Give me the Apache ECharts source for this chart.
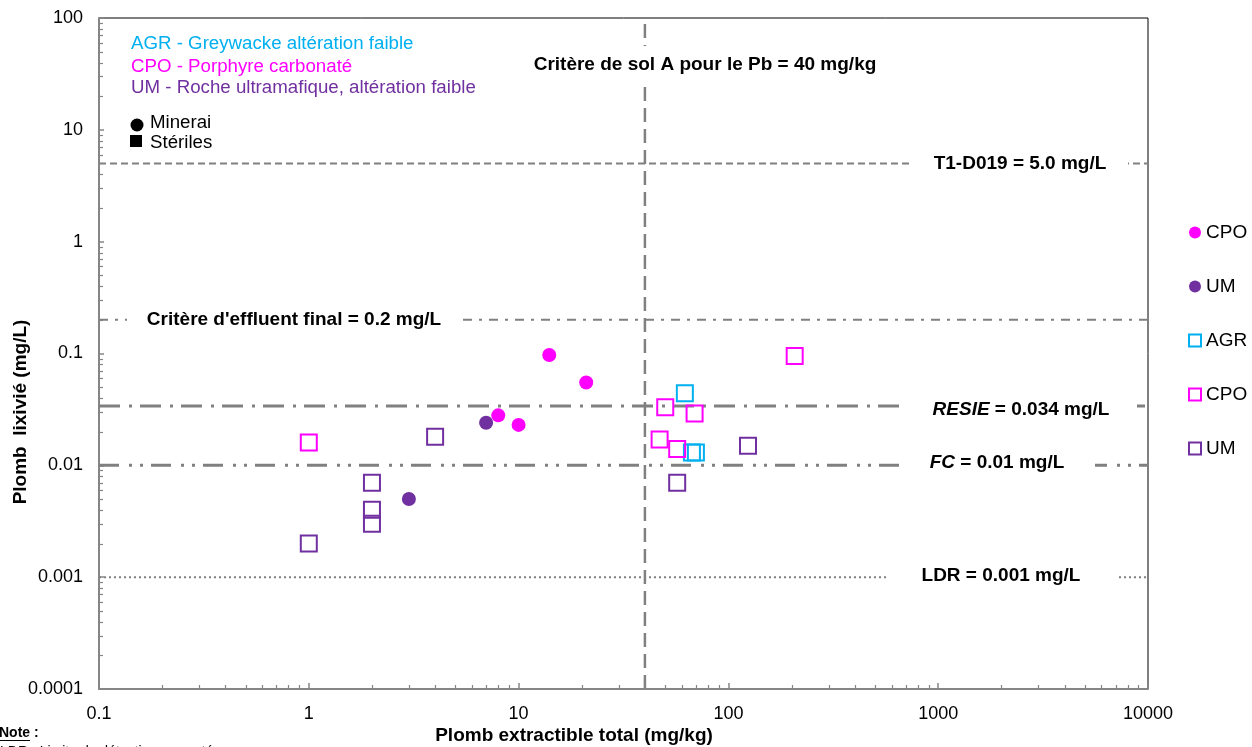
<!DOCTYPE html>
<html>
<head>
<meta charset="utf-8">
<script src="https://cdn.jsdelivr.net/npm/echarts@6/dist/echarts.min.js"></script>
<style>
  html, body { margin: 0; padding: 0; background: #fff; }
  #chart { width: 1252px; height: 747px; }
</style>
</head>
<body>
<div id="chart"></div>
<script>
// Minerai (filled circles): Pb extractible total (mg/kg) vs Pb lixivié (mg/L)
const cpoOreX = [14, 21, 8, 10];
const cpoOreY = [0.097, 0.055, 0.028, 0.023];
const umOreX = [7, 3];
const umOreY = [0.024, 0.005];

// Stériles (open squares)
const agrWasteX = [62, 67, 70];
const agrWasteY = [0.044, 0.013, 0.013];
const cpoWasteX = [1, 207, 50, 69, 47, 57];
const cpoWasteY = [0.016, 0.095, 0.033, 0.029, 0.017, 0.014];
const umWasteX = [4, 2, 2, 2, 1, 124, 57];
const umWasteY = [0.018, 0.007, 0.004, 0.003, 0.002, 0.015, 0.007];

// Axis ranges and tick labels
const xRange = [0.1, 10000];
const yRange = [0.0001, 100];
const xTickLabels = ['0.1', '1', '10', '100', '1000', '10000'];
const yTickLabels = ['0.0001', '0.001', '0.01', '0.1', '1', '10', '100'];

// Criteria
const soilCriterion = 40;                                // mg/kg
const soilCriterionLabel = 'Critère de sol A pour le Pb = 40 mg/kg';
const leachCriteria = [5.0, 0.2, 0.034, 0.01, 0.001];     // mg/L
const leachCriteriaLabels = [
  'T1-D019 = 5.0 mg/L',
  "Critère d'effluent final = 0.2 mg/L",
  '{i|RESIE} = 0.034 mg/L',
  '{i|FC} = 0.01 mg/L',
  'LDR = 0.001 mg/L'
];

const FONT = '"Liberation Sans", Arial, sans-serif';
const C_AGR = '#00B0F0', C_CPO = '#FF00FF', C_UM = '#7030A0';
const GREY = '#808080', AXIS_GREY = '#868686';

function pts(xs, ys) { return xs.map((x, i) => [x, ys[i]]); }

// Line pattern and label placement (pixels) for each leaching criterion
const leachStyles = [
  { width: 2, type: [7, 4] },
  { width: 2, type: [9, 7, 3, 7] },
  { width: 3, type: [21, 9, 3, 8] },
  { width: 3, type: [20, 10, 3, 8, 3, 8] },
  { width: 2, type: [2, 3] }
];
const leachLabelPos = [
  { cx: 1020, dy: 0,  gap: [913, 1128] },
  { cx: 294,  dy: 0,  gap: [127, 458] },
  { cx: 1021, dy: 4,  gap: [908, 1137] },
  { cx: 997,  dy: -3, gap: [906, 1095] },
  { cx: 1001, dy: -1, gap: [889, 1116] }
];

const chart = echarts.init(document.getElementById('chart'), null, { renderer: 'canvas' });

const squareStyle = c => ({ color: 'rgba(0,0,0,0)', borderColor: c, borderWidth: 2, opacity: 1 });

// horizontal criteria span the whole x range; the soil criterion spans the whole y range
const criteriaSeries = [{
  name: 'sol A', type: 'line', z: 1, silent: true, symbol: 'none', animation: false,
  lineStyle: { color: GREY, width: 2.5, type: [14, 7] },
  data: [[soilCriterion, yRange[0]], [soilCriterion, yRange[1]]]
}].concat(leachCriteria.map((v, i) => ({
  name: 'critère ' + i, type: 'line', z: 1, silent: true, symbol: 'none', animation: false,
  lineStyle: { color: GREY, width: leachStyles[i].width, type: leachStyles[i].type },
  data: [[xRange[0], v], [xRange[1], v]]
})));

const option = {
  animation: false,
  backgroundColor: '#fff',
  grid: { left: 99, right: 104, top: 18, bottom: 58, show: true, borderColor: '#000', borderWidth: 1, backgroundColor: '#fff' },
  xAxis: {
    type: 'log', logBase: 10, min: xRange[0], max: xRange[1],
    axisLine: { lineStyle: { color: AXIS_GREY, width: 2 } },
    axisTick: { inside: true, length: 6, lineStyle: { color: AXIS_GREY, width: 1.5 } },
    axisLabel: { margin: 16, color: '#000', fontSize: 18, fontFamily: FONT,
      formatter: v => xTickLabels[Math.round(Math.log10(v)) + 1] },
    splitLine: { show: false }, minorTick: { show: false }
  },
  yAxis: {
    type: 'log', logBase: 10, min: yRange[0], max: yRange[1],
    axisLine: { lineStyle: { color: AXIS_GREY, width: 2 } },
    axisTick: { inside: true, length: 5, lineStyle: { color: AXIS_GREY, width: 1.5 } },
    axisLabel: { margin: 16, color: '#000', fontSize: 18, fontFamily: FONT,
      formatter: v => yTickLabels[Math.round(Math.log10(v)) + 4] },
    splitLine: { show: false }, minorTick: { show: false }
  },
  legend: {
    orient: 'vertical', left: 1188, top: 223, itemGap: 35, padding: 0,
    itemWidth: 12, itemHeight: 12, selectedMode: false,
    textStyle: { fontSize: 19, color: '#000', fontFamily: FONT },
    formatter: n => n.split(' ')[0],
    data: [
      { name: 'CPO minerai', icon: 'circle' },
      { name: 'UM minerai', icon: 'circle' },
      { name: 'AGR stériles', icon: 'rect' },
      { name: 'CPO stériles', icon: 'rect' },
      { name: 'UM stériles', icon: 'rect' }
    ]
  },
  series: criteriaSeries.concat([
    { name: 'CPO minerai', type: 'scatter', symbol: 'circle', symbolSize: 14, z: 5, itemStyle: { color: C_CPO, opacity: 1 }, data: pts(cpoOreX, cpoOreY) },
    { name: 'UM minerai', type: 'scatter', symbol: 'circle', symbolSize: 14, z: 5, itemStyle: { color: C_UM, opacity: 1 }, data: pts(umOreX, umOreY) },
    { name: 'AGR stériles', type: 'scatter', symbol: 'rect', symbolSize: 16, z: 4, itemStyle: squareStyle(C_AGR), data: pts(agrWasteX, agrWasteY) },
    { name: 'CPO stériles', type: 'scatter', symbol: 'rect', symbolSize: 16, z: 4, itemStyle: squareStyle(C_CPO), data: pts(cpoWasteX, cpoWasteY) },
    { name: 'UM stériles', type: 'scatter', symbol: 'rect', symbolSize: 16, z: 4, itemStyle: squareStyle(C_UM), data: pts(umWasteX, umWasteY) }
  ])
};

chart.setOption(option);

// Minor log ticks, reference line labels, axis titles and the key
const xPix = v => chart.convertToPixel({ xAxisIndex: 0 }, v);
const yPix = v => chart.convertToPixel({ yAxisIndex: 0 }, v);
const xBase = xPix(xRange[0]), yBase = yPix(yRange[0]);
const g = [];
const tickStyle = { stroke: AXIS_GREY, lineWidth: 1.2 };

for (let k = -1; k < 4; k++) {
  for (let m = 2; m < 10; m++) {
    const px = Math.round(xPix(m * Math.pow(10, k))) + 0.5;
    g.push({ type: 'line', z: 50, shape: { x1: px, y1: yBase, x2: px, y2: yBase - 4 }, style: tickStyle });
  }
}
for (let k = -4; k < 2; k++) {
  for (let m = 2; m < 10; m++) {
    const py = Math.round(yPix(m * Math.pow(10, k))) + 0.5;
    g.push({ type: 'line', z: 50, shape: { x1: xBase, y1: py, x2: xBase + 4, y2: py }, style: tickStyle });
  }
}

const labelFont = { fontFamily: FONT, fontSize: 19, fontWeight: 'bold' };

leachCriteria.forEach((v, i) => {
  const p = leachLabelPos[i];
  const py = yPix(v);
  g.push({ type: 'rect', z: 90, shape: { x: p.gap[0], y: py - 6, width: p.gap[1] - p.gap[0], height: 12 }, style: { fill: '#fff' } });
  g.push({ type: 'text', z: 100, x: p.cx, y: py + p.dy,
    style: Object.assign({ text: leachCriteriaLabels[i], fill: '#000', align: 'center', verticalAlign: 'middle',
      rich: { i: { fontFamily: FONT, fontSize: 19, fontWeight: 'bold', fontStyle: 'italic' } } }, labelFont) });
});

// soil criterion label across the vertical line
const sx = xPix(soilCriterion);
g.push({ type: 'rect', z: 90, shape: { x: sx - 6, y: 46, width: 12, height: 40 }, style: { fill: '#fff' } });
g.push({ type: 'text', z: 100, x: 705, y: 65, style: Object.assign({ text: soilCriterionLabel, fill: '#000', align: 'center', verticalAlign: 'middle' }, labelFont) });

// axis titles
g.push({ type: 'text', z: 100, x: 574, y: 736, style: Object.assign({ text: 'Plomb extractible total (mg/kg)', fill: '#000', align: 'center', verticalAlign: 'middle' }, labelFont) });
g.push({ type: 'text', z: 100, x: 21, y: 412, rotation: Math.PI / 2, style: Object.assign({ text: 'Plomb  lixivié (mg/L)', fill: '#000', align: 'center', verticalAlign: 'middle' }, labelFont) });

// rock-type key
const keyFont = { fontFamily: FONT, fontSize: 18.7 };
[['AGR - Greywacke altération faible', C_AGR, 44], ['CPO - Porphyre carbonaté', C_CPO, 67], ['UM - Roche ultramafique, altération faible', C_UM, 88]]
  .forEach(([t, c, y]) => g.push({ type: 'text', z: 100, x: 131, y: y, style: Object.assign({ text: t, fill: c, align: 'left', verticalAlign: 'middle' }, keyFont) }));

// sample-type key
g.push({ type: 'circle', z: 100, shape: { cx: 137, cy: 125, r: 6.5 }, style: { fill: '#000' } });
g.push({ type: 'text', z: 100, x: 150, y: 123, style: Object.assign({ text: 'Minerai', fill: '#000', align: 'left', verticalAlign: 'middle' }, keyFont) });
g.push({ type: 'rect', z: 100, shape: { x: 130, y: 135, width: 12, height: 12 }, style: { fill: '#000' } });
g.push({ type: 'text', z: 100, x: 150, y: 143, style: Object.assign({ text: 'Stériles', fill: '#000', align: 'left', verticalAlign: 'middle' }, keyFont) });

// note
const noteFont = { fontFamily: FONT, fontSize: 14 };
g.push({ type: 'text', z: 100, x: -1, y: 733, style: Object.assign({ text: 'Note :', fill: '#000', align: 'left', verticalAlign: 'middle', fontWeight: 'bold' }, noteFont) });
g.push({ type: 'line', z: 100, shape: { x1: 0, y1: 740.5, x2: 30, y2: 740.5 }, style: { stroke: '#000', lineWidth: 1 } });
g.push({ type: 'text', z: 100, x: 0, y: 752, style: Object.assign({ text: 'LDR : Limite de détection rapportée', fill: '#000', align: 'left', verticalAlign: 'middle' }, noteFont) });

chart.setOption({ graphic: g });
</script>
</body>
</html>
